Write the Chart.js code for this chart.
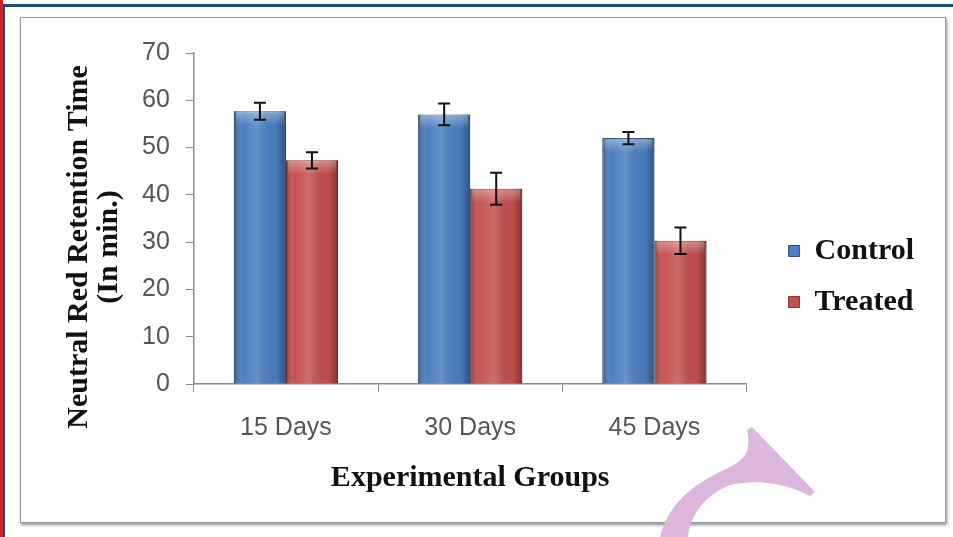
<!DOCTYPE html>
<html>
<head>
<meta charset="utf-8">
<script src="https://cdn.jsdelivr.net/npm/chart.js@4.4.0/dist/chart.umd.min.js"></script>
<style>
  html, body { margin: 0; padding: 0; background: #fff; }
  #page { position: relative; width: 953px; height: 537px; overflow: hidden; background: #fff; }
  #redLine { position: absolute; left: 0; top: 0; width: 3px; height: 537px; background: #c8262f; }
  #blueTop { position: absolute; left: 3px; top: 4px; width: 950px; height: 3px; background: #1d4f77; }
  #blueLeft { position: absolute; left: 3px; top: 4px; width: 2px; height: 533px; background: #1d4f77; }
  #frame {
    position: absolute; left: 20px; top: 17px; width: 924px; height: 504px;
    border: 1px solid #9a9a9a; box-shadow: 1px 2px 3px rgba(0,0,0,0.45); background: #fff;
  }
  #chartBox { position: absolute; left: 22px; top: 19px; width: 922px; height: 502px; }
  #swoosh { position: absolute; left: 0; top: 0; pointer-events: none; }
</style>
</head>
<body>
<div id="page">
  <div id="redLine"></div>
  <div id="blueTop"></div>
  <div id="blueLeft"></div>
  <div id="frame"></div>
  <div id="chartBox"><canvas id="retentionChart" width="922" height="502"></canvas></div>
  <svg id="swoosh" width="953" height="537">
    <path d="M747,430 L752,427 L815,492 L810,496 C790,485 760,478 730,485 C705,495 690,515 688,537 L660,537 C668,505 690,485 730,467 C750,457 750,445 747,430 Z" fill="#dcb6dc"/>
  </svg>
</div>

<script>
// Chart data
const groups = ['15 Days', '30 Days', '45 Days'];
const controlValues = [57.7, 57.0, 52.0];
const controlErrors = [1.8, 2.3, 1.3];
const treatedValues = [47.3, 41.3, 30.3];
const treatedErrors = [1.7, 3.4, 2.8];
const yTicks = [0, 10, 20, 30, 40, 50, 60, 70];
const yTitleLines = ['Neutral Red Retention Time', '(In min.)'];

const serifFamily = "'Liberation Serif', 'Times New Roman', serif";
const serifBold = { family: serifFamily, size: 30, weight: 'bold' };
const tickFont = { family: "'Liberation Sans', Arial, sans-serif", size: 25 };

// Cylinder-like shading on top of each bar
const barShading = {
  id: 'barShading',
  afterDatasetsDraw(chart) {
    const ctx = chart.ctx;
    chart.data.datasets.forEach((ds, i) => {
      chart.getDatasetMeta(i).data.forEach(bar => {
        const left = bar.x - bar.width / 2;
        const right = bar.x + bar.width / 2;
        const h = bar.base - bar.y;
        const g = ctx.createLinearGradient(left, 0, right, 0);
        g.addColorStop(0, 'rgba(0,0,0,0.3)');
        g.addColorStop(0.18, 'rgba(255,255,255,0.02)');
        g.addColorStop(0.45, 'rgba(255,255,255,0.16)');
        g.addColorStop(0.8, 'rgba(0,0,0,0.02)');
        g.addColorStop(1, 'rgba(0,0,0,0.34)');
        ctx.save();
        ctx.fillStyle = g;
        ctx.fillRect(left, bar.y, bar.width, h);
        const t = ctx.createLinearGradient(0, bar.y, 0, bar.y + 14);
        t.addColorStop(0, 'rgba(255,255,255,0.35)');
        t.addColorStop(1, 'rgba(255,255,255,0)');
        ctx.fillStyle = t;
        ctx.fillRect(left + 2, bar.y + 1, bar.width - 4, 14);
        ctx.restore();
      });
    });
  }
};

// Error bars drawn through the y scale
const errorBars = {
  id: 'errorBars',
  afterDatasetsDraw(chart) {
    const ctx = chart.ctx;
    const y = chart.scales.y;
    const errs = [controlErrors, treatedErrors];
    chart.data.datasets.forEach((ds, i) => {
      chart.getDatasetMeta(i).data.forEach((bar, j) => {
        const v = ds.data[j];
        const top = y.getPixelForValue(v + errs[i][j]);
        const bottom = y.getPixelForValue(v - errs[i][j]);
        ctx.save();
        ctx.strokeStyle = '#111';
        ctx.lineWidth = 2;
        ctx.beginPath();
        ctx.moveTo(bar.x, top);
        ctx.lineTo(bar.x, bottom);
        ctx.moveTo(bar.x - 6, top);
        ctx.lineTo(bar.x + 6, top);
        ctx.moveTo(bar.x - 6, bottom);
        ctx.lineTo(bar.x + 6, bottom);
        ctx.stroke();
        ctx.restore();
      });
    });
  }
};

// Rotated two-line y axis title (sits a bit below the axis centre, as in the original)
const yTitle = {
  id: 'yTitle',
  afterDraw(chart) {
    const ctx = chart.ctx;
    ctx.save();
    ctx.fillStyle = '#111';
    ctx.font = `bold ${serifBold.size}px ${serifFamily}`;
    ctx.textAlign = 'center';
    ctx.textBaseline = 'middle';
    ctx.translate(57, 228);
    ctx.rotate(-Math.PI / 2);
    yTitleLines.forEach((line, i) => ctx.fillText(line, 0, i * 30));
    ctx.restore();
  }
};

new Chart(document.getElementById('retentionChart'), {
  type: 'bar',
  data: {
    labels: groups,
    datasets: [
      {
        label: 'Control',
        data: controlValues,
        backgroundColor: '#4a7ec0',
        borderColor: '#2d5487',
        borderWidth: 1
      },
      {
        label: 'Treated',
        data: treatedValues,
        backgroundColor: '#c4504e',
        borderColor: '#8a3230',
        borderWidth: 1
      }
    ]
  },
  options: {
    responsive: false,
    animation: false,
    categoryPercentage: 0.565,
    barPercentage: 1.0,
    layout: { padding: { left: 104, top: 34, right: 20, bottom: 21 } },
    plugins: {
      tooltip: { enabled: false },
      legend: {
        position: 'right',
        maxWidth: 220,
        labels: {
          font: serifBold,
          color: '#111',
          boxWidth: 11,
          boxHeight: 11,
          padding: 21
        }
      }
    },
    scales: {
      x: {
        grid: { display: true, drawOnChartArea: false, color: '#8c8c8c', tickLength: 8 },
        border: { display: true, color: '#8c8c8c', width: 1.5 },
        ticks: { font: tickFont, color: '#555', padding: 21 },
        title: {
          display: true,
          text: 'Experimental Groups',
          font: serifBold,
          color: '#111',
          padding: { top: -4, bottom: 4 }
        }
      },
      y: {
        min: 0,
        max: 70,
        afterBuildTicks(scale) {
          scale.ticks = yTicks.map(v => ({ value: v }));
        },
        grid: { display: true, drawOnChartArea: false, color: '#8c8c8c', tickLength: 8 },
        border: { display: true, color: '#8c8c8c', width: 1.5 },
        ticks: { font: tickFont, color: '#555', padding: 16 },
        title: { display: false }
      },
      gap: {
        // empty spacer between the plot and the legend
        position: 'right',
        display: true,
        grid: { display: false },
        border: { display: false },
        ticks: { display: false },
        afterFit(scale) { scale.width = 21; }
      }
    }
  },
  plugins: [barShading, errorBars, yTitle]
});
</script>
</body>
</html>
